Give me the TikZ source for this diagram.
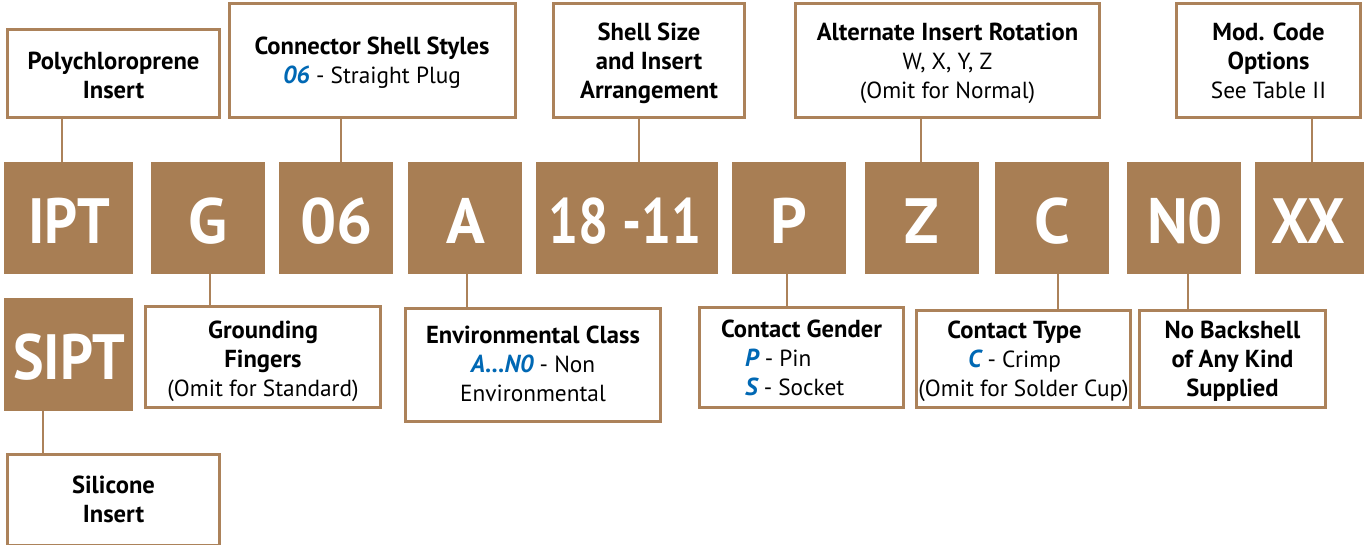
\documentclass[tikz,border=0pt]{standalone}
\usepackage{fontspec}
\setmainfont{PT Sans}
\definecolor{brn}{RGB}{168,126,84}
\definecolor{brd}{RGB}{172,130,90}
\definecolor{blu}{RGB}{0,104,180}
\newcommand\ms{\rule[-7pt]{0pt}{29pt}}
\newcommand\B[1]{{\fontsize{24.6}{29}\selectfont\bfseries #1}}
\newcommand\hl[1]{{\fontsize{24.6}{29}\selectfont\color{blu}\bfseries\itshape #1}}
\newcommand\WB[5]{\node[wbox, minimum width={(#4-#2)*1pt-2.6pt}, minimum height={(#5-#3)*1pt-2.6pt}] (#1) at ({(#2+#4)/2},{(#3+#5)/2}) {};}
\newcommand\BB[5]{\node[bbox, minimum width={(#4-#2)*1pt}, minimum height={(#5-#3)*1pt}] (#1) at ({(#2+#4)/2},{(#3+#5)/2}) {};}
\newcommand\sx[2]{\scalebox{#1}[1]{#2}}
\begin{document}
\begin{tikzpicture}[x=1pt,y=-1pt,
  wbox/.style={draw=brd, line width=2.6pt, fill=white, inner sep=0pt},
  bbox/.style={fill=brn, inner sep=0pt},
  lbl/.style={inner sep=0pt, align=center, anchor=north, font=\fontsize{23.3}{29}\selectfont},
  big/.style={text=white, font=\bfseries\fontsize{64}{64}\selectfont, inner sep=0pt, anchor=base},
  conn/.style={draw=brd, line width=2.6pt}]
\useasboundingbox (0,0) rectangle (1364,544);
\fill[white] (0,0) rectangle (1364,544);
% main row
\BB{ipt}{4}{162}{133}{274}
\BB{g}{151}{162}{265}{274}
\BB{s06}{279}{162}{393}{274}
\BB{a}{408}{162}{522}{274}
\BB{sz}{536}{162}{718}{274}
\BB{p}{732}{162}{846}{274}
\BB{z}{865}{162}{979}{274}
\BB{c}{995}{162}{1109}{274}
\BB{n0}{1127}{162}{1241}{274}
\BB{xx}{1255}{162}{1369}{274}
\BB{sipt}{4}{298}{133}{411}
% white boxes
\WB{poly}{6}{28}{221}{119}
\WB{conn}{228}{2}{516.5}{119}
\WB{shell}{552}{2}{746}{119}
\WB{alt}{794}{2}{1101}{119}
\WB{mod}{1175}{2}{1362}{119}
\WB{grnd}{144}{305}{382}{409}
\WB{env}{404}{307}{662}{423}
\WB{gender}{698}{306}{905}{409}
\WB{ctype}{915}{309}{1132}{409}
\WB{noback}{1138}{309}{1327}{409}
\WB{sil}{6}{453}{221}{547}
% connectors
\coordinate (k1) at (62,0);
\coordinate (k2) at (341,0);
\coordinate (k3) at (639,0);
\coordinate (k4) at (921,0);
\coordinate (k5) at (1312,0);
\coordinate (k6) at (210,0);
\coordinate (k7) at (467,0);
\coordinate (k8) at (787,0);
\coordinate (k9) at (1058,0);
\coordinate (k10) at (1188,0);
\coordinate (k11) at (43,0);
\draw[conn] (poly.south -| k1) -- (ipt.north -| k1);
\draw[conn] (conn.south -| k2) -- (s06.north -| k2);
\draw[conn] (shell.south -| k3) -- (sz.north -| k3);
\draw[conn] (alt.south -| k4) -- (z.north -| k4);
\draw[conn] (mod.south -| k5) -- (xx.north -| k5);
\draw[conn] (g.south -| k6) -- (grnd.north -| k6);
\draw[conn] (a.south -| k7) -- (env.north -| k7);
\draw[conn] (p.south -| k8) -- (gender.north -| k8);
\draw[conn] (c.south -| k9) -- (ctype.north -| k9);
\draw[conn] (n0.south -| k10) -- (noback.north -| k10);
\draw[conn] (sipt.south -| k11) -- (sil.north -| k11);
% big labels
\node[big] (tipt) at (69,243) {\sx{0.9}{IPT}};
\node[big] (tg) at (208,243) {G};
\node[big] (t06) at (336.5,243) {06};
\node[big] (ta) at (465.5,243) {A};
\node[big] (tsz) at (625,243) {\sx{0.83}{18 -11}};
\node[big] (tp) at (789,243) {P};
\node[big] (tz) at (922,243) {Z};
\node[big] (tc) at (1052,243) {C};
\node[big] (tn0) at (1185,243) {\sx{0.97}{N0}};
\node[big] (txx) at (1308,243) {\sx{0.93}{XX}};
\node[big] (tsipt) at (69.5,379) {\sx{0.9}{SIPT}};
% small labels
\node[lbl] (lpoly) at (113.5,47) {\ms\B{Polychloroprene}\\\B{Insert}};
\node[lbl] (lconn) at (372,32) {\ms\B{Connector Shell Styles}\\\hl{06} - Straight Plug};
\node[lbl] (lshell) at (649,18) {\ms\B{Shell Size}\\\B{and Insert}\\\B{Arrangement}};
\node[lbl] (lalt) at (947.5,18) {\ms\B{Alternate Insert Rotation}\\W, X, Y, Z\\(Omit for Normal)};
\node[lbl] (lmod) at (1268.5,18) {\ms\B{Mod. Code}\\\B{Options}\\See Table II};
\node[lbl] (lgrnd) at (263,316) {\ms\B{Grounding}\\\B{Fingers}\\(Omit for Standard)};
\node[lbl] (lenv) at (533,321) {\ms\B{Environmental Class}\\\hl{A...N0} - Non\\Environmental};
\node[lbl] (lgender) at (801.5,315) {\ms\B{Contact Gender}\\\makebox[113pt][l]{\hl{P} - Pin}\\\makebox[113pt][l]{\hl{S} - Socket}};
\node[lbl] (lctype) at (1023.5,316) {\ms\B{Contact Type}\rule{18pt}{0pt}\\\hl{C} - Crimp\rule{18pt}{0pt}\\(Omit for Solder Cup)};
\node[lbl] (lnoback) at (1232.5,316) {\ms\B{No Backshell}\\\B{of Any Kind}\\\B{Supplied}};
\node[lbl] (lsil) at (113.5,471) {\ms\B{Silicone}\\\B{Insert}};
\end{tikzpicture}
\end{document}
